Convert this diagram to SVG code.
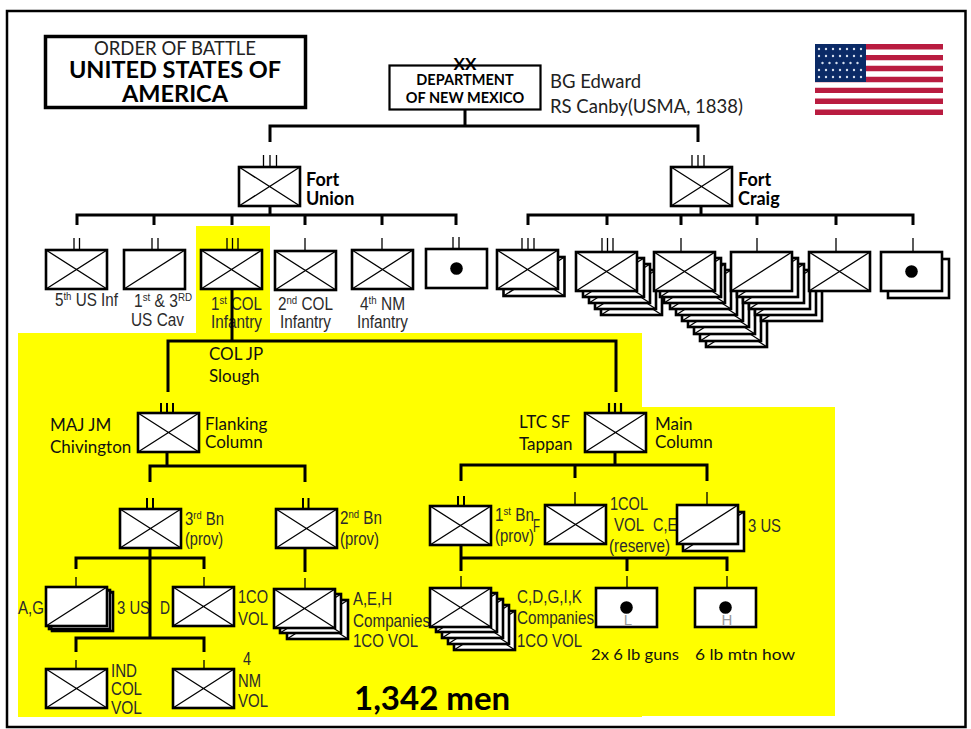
<svg xmlns="http://www.w3.org/2000/svg" xmlns:xlink="http://www.w3.org/1999/xlink" width="971" height="729" viewBox="0 0 971 729">
<style>
.k{fill:#fff;stroke:#000;stroke-width:2.6}
.t{fill:none;stroke:#000;stroke-width:1.3}
.c{fill:none;stroke:#000;stroke-width:3}
.n{font-family:"Liberation Sans",Arial,sans-serif;font-size:17.5px;fill:#2b2b2b}
.l{font-family:Lato,"Open Sans",sans-serif;font-size:17px;fill:#111}
.b{font-family:Lato,"Open Sans",sans-serif;font-weight:700;fill:#000}
.m{text-anchor:middle}
</style>
<defs>
<g id="bx"><rect class="k" width="61" height="39"/><path class="t" d="M0 0L61 39M61 0L0 39"/></g>
<g id="bs"><rect class="k" width="61" height="39"/><path class="t" d="M61 0L0 39"/></g>
<g id="bd"><rect class="k" width="61" height="39"/><circle cx="30.500" cy="19.500" r="6.300" fill="#000"/></g>
</defs>
<rect width="971" height="729" fill="#fff"/>
<rect x="7" y="11" width="958.500" height="716" fill="none" stroke="#000" stroke-width="2.500"/>
<g id="highlight" fill="#ff0">
<rect x="196" y="226" width="74" height="108"/>
<rect x="18" y="333" width="624" height="384"/>
<rect x="642" y="407" width="193" height="309"/>
</g>
<g id="title">
<rect x="45.500" y="36.500" width="260" height="71" fill="#fff" stroke="#000" stroke-width="3.500"/>
<text class="l m" x="175" y="55" style="font-size:18.500px;fill:#222">ORDER OF BATTLE</text>
<text class="b m" x="175" y="78" font-size="23.500">UNITED STATES OF</text>
<text class="b m" x="175" y="102" font-size="23.500">AMERICA</text>
</g>
<g id="flag">
<rect x="815" y="44" width="128" height="71" fill="#fff"/>
<path stroke="#b91c40" stroke-width="5.400" d="M815 46.700H943M815 57.600H943M815 68.500H943M815 79.500H943M815 90.400H943M815 101.300H943M815 112.300H943"/>
<rect x="815" y="44" width="51" height="38" fill="#0b2a66"/>
<path stroke="#d5deee" stroke-width="2.400" stroke-linecap="round" stroke-dasharray="0 7" fill="none" d="M819 49H865M819 56H865M822.500 63H862M819 70H865M819 77H865"/>
</g>
<g id="dept">
<rect x="389.500" y="65.500" width="151" height="44" fill="#fff" stroke="#000" stroke-width="2.200"/>
<text class="b m" x="465" y="70" font-size="17">XX</text>
<text class="b m" x="465" y="85" font-size="14.500">DEPARTMENT</text>
<text class="b m" x="465" y="103" font-size="14.500">OF NEW MEXICO</text>
<text class="l" x="550" y="88" style="font-size:18.500px;fill:#222">BG Edward</text>
<text class="l" x="550" y="113" style="font-size:18.500px;fill:#222">RS Canby(USMA, 1838)</text>
</g>
<g id="fort-union">
<path class="t" d="M263.500 155V167M270 155V167M276.500 155V167"/><use href="#bx" x="239" y="167"/>
<text class="b" x="306" y="186" font-size="18">Fort</text><text class="b" x="306" y="205" font-size="18">Union</text>
</g>
<g id="fort-craig">
<path class="t" d="M692 155V167M698 155V167M704 155V167"/><use href="#bx" x="671" y="167"/>
<text class="b" x="738" y="186" font-size="18">Fort</text><text class="b" x="738" y="205" font-size="18">Craig</text>
</g>
<g id="inf5">
<path class="t" d="M74 238V250M79.500 238V250"/><use href="#bx" x="46" y="250"/>
<text class="n" x="55" y="306" textLength="63" lengthAdjust="spacingAndGlyphs">5<tspan dy="-6" font-size="11">th</tspan><tspan dy="6"> US Inf</tspan></text>
</g>
<g id="cav">
<path class="t" d="M152 238V250M158 238V250"/><use href="#bs" x="124" y="250"/>
<text class="n" x="134" y="307" textLength="58" lengthAdjust="spacingAndGlyphs">1<tspan dy="-6" font-size="11">st</tspan><tspan dy="6"> &amp; 3</tspan><tspan dy="-6" font-size="11">RD</tspan></text>
<text class="n" x="131" y="326" textLength="53" lengthAdjust="spacingAndGlyphs">US Cav</text>
</g>
<g id="col1">
<path class="t" d="M227 238V250M232.500 238V250M238 238V250"/><use href="#bx" x="201" y="250"/>
<text class="n" x="211" y="310" textLength="51" lengthAdjust="spacingAndGlyphs">1<tspan dy="-6" font-size="11">st</tspan><tspan dy="6"> COL</tspan></text>
<text class="n" x="211" y="328" textLength="51" lengthAdjust="spacingAndGlyphs">Infantry</text>
</g>
<g id="col2">
<path class="t" d="M305 238V251"/><use href="#bx" x="275" y="251"/>
<text class="n" x="278" y="310" textLength="55" lengthAdjust="spacingAndGlyphs">2<tspan dy="-6" font-size="11">nd</tspan><tspan dy="6"> COL</tspan></text>
<text class="n" x="280" y="328" textLength="51" lengthAdjust="spacingAndGlyphs">Infantry</text>
</g>
<g id="nm4">
<path class="t" d="M382 238V250"/><use href="#bx" x="352" y="250"/>
<text class="n" x="360" y="310" textLength="45" lengthAdjust="spacingAndGlyphs">4<tspan dy="-6" font-size="11">th</tspan><tspan dy="6"> NM</tspan></text>
<text class="n" x="357" y="328" textLength="51" lengthAdjust="spacingAndGlyphs">Infantry</text>
</g>
<g id="arty-union">
<path class="t" d="M453 237V249M459 237V249"/><use href="#bd" x="426" y="249"/>
</g>
<g id="craig1">
<path class="t" d="M522 238V250M528 238V250M534 238V250"/><use href="#bx" x="503.500" y="257"/><use href="#bx" x="497" y="250"/>
</g>
<g id="craig2">
<path class="t" d="M602 238V252M607.500 238V252M613 238V252"/>
<use href="#bx" x="601" y="276"/><use href="#bx" x="595" y="270"/><use href="#bx" x="589" y="264"/><use href="#bx" x="583" y="258"/><use href="#bx" x="576" y="252"/>
</g>
<g id="craig3">
<path class="t" d="M681 238V252"/>
<use href="#bx" x="706" y="308"/><use href="#bx" x="700" y="302"/><use href="#bx" x="694" y="295"/><use href="#bx" x="688" y="288"/><use href="#bx" x="682" y="282"/><use href="#bx" x="676" y="276"/><use href="#bx" x="670" y="270"/><use href="#bx" x="664" y="264"/><use href="#bx" x="660" y="258"/><use href="#bx" x="654" y="252"/>
</g>
<g id="craig4">
<path class="t" d="M757 238V252"/>
<use href="#bs" x="761" y="282"/><use href="#bs" x="755" y="276"/><use href="#bs" x="749" y="270"/><use href="#bs" x="743" y="264"/><use href="#bs" x="737" y="258"/><use href="#bs" x="731" y="252"/>
</g>
<g id="craig5">
<path class="t" d="M836 238V252"/><use href="#bx" x="809" y="252"/>
</g>
<g id="craig6">
<path class="t" d="M913 238V252"/><use href="#bd" x="888" y="259"/><use href="#bd" x="881" y="252"/>
</g>
<g id="slough">
<text class="l" x="209" y="360">COL JP</text><text class="l" x="209" y="382">Slough</text>
</g>
<g id="flanking">
<path class="c" style="stroke-width:2" d="M161 403V413M167 403V413M173 403V413"/><use href="#bx" x="138" y="413"/>
<text class="l" x="50" y="431">MAJ JM</text><text class="l" x="50" y="453">Chivington</text>
<text class="l" x="205" y="430">Flanking</text><text class="l" x="205" y="448">Column</text>
</g>
<g id="main">
<path class="c" style="stroke-width:2.200" d="M609 403V413M615 403V413M621 403V413"/><use href="#bx" x="585" y="413"/>
<text class="l" x="519" y="428">LTC SF</text><text class="l" x="519" y="450">Tappan</text>
<text class="l" x="655" y="430">Main</text><text class="l" x="655" y="448">Column</text>
</g>
<g id="bn3">
<path class="c" style="stroke-width:2" d="M147 498V509M153 498V509"/><use href="#bx" x="120" y="509"/>
<text class="n" x="185" y="525" textLength="39" lengthAdjust="spacingAndGlyphs">3<tspan dy="-6" font-size="11">rd</tspan><tspan dy="6"> Bn</tspan></text>
<text class="n" x="185" y="545" textLength="38" lengthAdjust="spacingAndGlyphs">(prov)</text>
</g>
<g id="bn2">
<path class="c" style="stroke-width:2" d="M303 498V509M308.500 498V509"/><use href="#bx" x="276" y="509"/>
<text class="n" x="340" y="524" textLength="42" lengthAdjust="spacingAndGlyphs">2<tspan dy="-6" font-size="11">nd</tspan><tspan dy="6"> Bn</tspan></text>
<text class="n" x="340" y="545" textLength="39" lengthAdjust="spacingAndGlyphs">(prov)</text>
</g>
<g id="ag">
<path class="t" d="M76 577V587"/><use href="#bs" x="52" y="592"/><use href="#bs" x="49" y="590"/><use href="#bs" x="46" y="587"/>
<text class="n" x="18" y="614" textLength="26" lengthAdjust="spacingAndGlyphs">A,G</text>
<text class="n" x="117" y="614" textLength="33" lengthAdjust="spacingAndGlyphs">3 US</text>
</g>
<g id="d">
<path class="t" d="M204 577V587"/><use href="#bx" x="173" y="587"/>
<text class="n" x="160" y="614" textLength="10" lengthAdjust="spacingAndGlyphs">D</text>
<text class="n" x="238" y="603" textLength="30" lengthAdjust="spacingAndGlyphs">1CO</text>
<text class="n" x="238" y="625" textLength="30" lengthAdjust="spacingAndGlyphs">VOL</text>
</g>
<g id="aeh">
<path class="t" d="M305 578V589"/><use href="#bx" x="287" y="600"/><use href="#bx" x="280" y="594"/><use href="#bx" x="274" y="589"/>
<text class="n" x="353" y="605" textLength="39" lengthAdjust="spacingAndGlyphs">A,E,H</text>
<text class="n" x="353" y="627" textLength="77" lengthAdjust="spacingAndGlyphs">Companies</text>
<text class="n" x="353" y="647" textLength="65" lengthAdjust="spacingAndGlyphs">1CO VOL</text>
</g>
<g id="ind">
<path class="t" d="M76 660V669"/><use href="#bx" x="46" y="669"/>
<text class="n" x="111" y="677" textLength="26" lengthAdjust="spacingAndGlyphs">IND</text>
<text class="n" x="111" y="695" textLength="31" lengthAdjust="spacingAndGlyphs">COL</text>
<text class="n" x="111" y="714" textLength="31" lengthAdjust="spacingAndGlyphs">VOL</text>
</g>
<g id="nmvol">
<path class="t" d="M204 660V669"/><use href="#bx" x="173" y="669"/>
<text class="n" x="243" y="665" textLength="8" lengthAdjust="spacingAndGlyphs">4</text>
<text class="n" x="238" y="687" textLength="23" lengthAdjust="spacingAndGlyphs">NM</text>
<text class="n" x="238" y="707" textLength="30" lengthAdjust="spacingAndGlyphs">VOL</text>
</g>
<g id="bn1">
<path class="c" style="stroke-width:2" d="M458 496V506M464 496V506"/><use href="#bx" x="430" y="506"/>
<text class="n" x="495" y="521" textLength="39" lengthAdjust="spacingAndGlyphs">1<tspan dy="-6" font-size="11">st</tspan><tspan dy="6"> Bn</tspan></text>
<text class="n" x="495" y="542" textLength="39" lengthAdjust="spacingAndGlyphs">(prov)</text>
</g>
<g id="f">
<path class="t" d="M575 492V505"/><use href="#bx" x="545" y="505"/>
<text class="n" x="533" y="532" textLength="7" lengthAdjust="spacingAndGlyphs">F</text>
<text class="n" x="610" y="510" textLength="38" lengthAdjust="spacingAndGlyphs">1COL</text>
<text class="n" x="614" y="531" textLength="30" lengthAdjust="spacingAndGlyphs">VOL</text>
<text class="n" x="609" y="552" textLength="61" lengthAdjust="spacingAndGlyphs">(reserve)</text>
</g>
<g id="ce">
<path class="t" d="M707 492V505"/>
<text class="n" x="653" y="531" textLength="24" lengthAdjust="spacingAndGlyphs">C,E</text>
<use href="#bs" x="683" y="512"/><use href="#bs" x="677" y="505"/>
<text class="n" x="748" y="532" textLength="33" lengthAdjust="spacingAndGlyphs">3 US</text>
</g>
<g id="cdgik">
<path class="t" d="M461 576V588"/><use href="#bx" x="454" y="611"/><use href="#bx" x="448" y="605"/><use href="#bx" x="442" y="599"/><use href="#bx" x="436" y="593"/><use href="#bx" x="430" y="588"/>
<text class="n" x="517" y="603" textLength="65" lengthAdjust="spacingAndGlyphs">C,D,G,I,K</text>
<text class="n" x="517" y="624" textLength="77" lengthAdjust="spacingAndGlyphs">Companies</text>
<text class="n" x="517" y="647" textLength="65" lengthAdjust="spacingAndGlyphs">1CO VOL</text>
</g>
<g id="guns">
<path class="t" d="M627 576V588"/><use href="#bd" x="596" y="588"/>
<text class="n m" x="628" y="625" style="fill:#999;font-size:15px">L</text>
<text class="l" x="591" y="660" textLength="88" lengthAdjust="spacingAndGlyphs" style="font-size:16px">2x 6 lb guns</text>
</g>
<g id="how">
<path class="t" d="M727 576V588"/><use href="#bd" x="695" y="588"/>
<text class="n m" x="727" y="625" style="fill:#999;font-size:15px">H</text>
<text class="l" x="695" y="660" textLength="100" lengthAdjust="spacingAndGlyphs" style="font-size:16px">6 lb mtn how</text>
</g>
<text class="b" x="354" y="710" font-size="33">1,342 men</text>
<g id="connectors">
<path class="c" d="M465 110V126M270 142V126H698V142"/>
<path class="c" d="M270 205V215M77 225V215H456V225M154 215V225M232 215V225M305 215V225M382 215V225"/>
<path class="c" d="M701 205V215M528 225V215H913V225M607 215V225M681 215V225M757 215V225M836 215V225"/>
<path class="c" d="M232 289V341M168 392V341H616V392"/>
<path class="c" d="M167 452V466M150 482V466H305V482"/>
<path class="c" d="M615 452V465M461 481V465H707V481M575 465V478"/>
<path class="c" d="M150 548V638M76 569V558H204V569M76 652V638H204V652"/>
<path class="c" d="M305 547V572"/>
<path class="c" d="M461 544V571M461 558H727V571M627 558V571"/>
</g>
</svg>
